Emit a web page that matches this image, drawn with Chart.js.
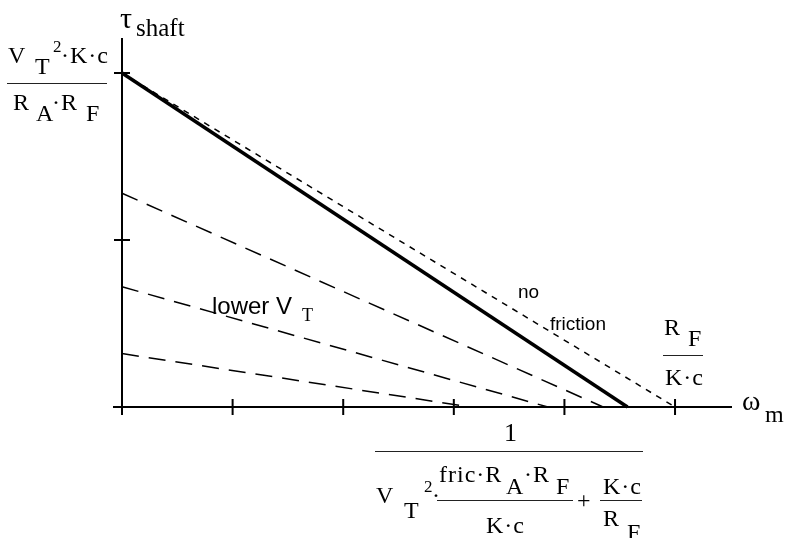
<!DOCTYPE html>
<html lang="en">
<head>
    <meta charset="UTF-8">
    <title>Shaft torque vs speed</title>
    <script src="https://cdn.jsdelivr.net/npm/chart.js"></script>
    <style>
        body {
            margin: 0;
            background: #fff;
        }
        #wrap {
            position: relative;
            width: 786px;
            height: 538px;
            overflow: hidden;
        }
        canvas {
            position: absolute;
            left: 0;
            top: 0;
        }
        .lbl {
            position: absolute;
            white-space: pre;
            line-height: 1;
            color: #000;
        }
        .bar {
            position: absolute;
            height: 0;
            border-top: 1.3px solid #222;
        }
    </style>
</head>
<body>
<div id="wrap">
    <canvas id="chart" width="786" height="538"></canvas>
</div>

<script>
    // axis ticks (speed and torque in tick units)
    const xTicks = [0, 1, 2, 3, 4, 5];
    const yTicks = [0, 1, 2];

    // torque-speed lines: [speed, torque] end points
    const noFriction = [[0, 2], [5, 0]];
    const withFriction = [[0, 2], [4.57, 0]];
    const lowerVt1 = [[0, 1.28], [4.35, 0]];
    const lowerVt2 = [[0, 0.72], [3.85, 0]];
    const lowerVt3 = [[0, 0.32], [3.15, 0]];

    const pts = arr => arr.map(p => ({ x: p[0], y: p[1] }));

    // axes crossing at the origin, with cross-shaped tick marks
    const crossAxes = {
        id: "crossAxes",
        beforeDatasetsDraw(chart) {
            const { ctx, scales: { x, y } } = chart;
            const x0 = x.getPixelForValue(0);
            const y0 = y.getPixelForValue(0);
            const t = 8;
            ctx.save();
            ctx.strokeStyle = "#000";
            ctx.lineWidth = 2;
            ctx.beginPath();
            ctx.moveTo(x.left, y0);
            ctx.lineTo(x.right, y0);
            ctx.moveTo(x0, y.top);
            ctx.lineTo(x0, y.bottom);
            xTicks.forEach(v => {
                const px = x.getPixelForValue(v);
                ctx.moveTo(px, y0 - t);
                ctx.lineTo(px, y0 + t);
            });
            yTicks.forEach(v => {
                const py = y.getPixelForValue(v);
                ctx.moveTo(x0 - t, py);
                ctx.lineTo(x0 + t, py);
            });
            ctx.stroke();
            ctx.restore();
        }
    };

    const dashed = data => ({
        data: pts(data),
        borderColor: "#000",
        borderWidth: 1.5,
        borderDash: [17, 10]
    });

    new Chart(document.getElementById("chart"), {
        type: "scatter",
        data: {
            datasets: [
                { data: pts(noFriction), borderColor: "#000", borderWidth: 1.5, borderDash: [6, 6] },
                { data: pts(withFriction), borderColor: "#000", borderWidth: 3.5 },
                dashed(lowerVt1),
                dashed(lowerVt2),
                dashed(lowerVt3)
            ]
        },
        options: {
            responsive: false,
            animation: false,
            showLine: true,
            layout: { padding: { left: 113, right: 54, top: 38, bottom: 123 } },
            elements: { point: { radius: 0 }, line: { tension: 0 } },
            scales: {
                x: { type: "linear", min: -0.0814, max: 5.515, display: false },
                y: { type: "linear", min: -0.048, max: 2.21, display: false }
            },
            plugins: { legend: { display: false }, tooltip: { enabled: false } }
        },
        plugins: [crossAxes]
    });

    // math labels, placed by baseline
    const wrap = document.getElementById("wrap");
    const SERIF = "'Liberation Serif', 'Times New Roman', serif";
    const SANS = "'Liberation Sans', Arial, sans-serif";

    function lbl(text, x, base, size, family, extra) {
        const d = document.createElement("div");
        d.className = "lbl";
        d.textContent = text;
        d.style.left = x + "px";
        d.style.top = (base - 0.84 * size) + "px";
        d.style.fontSize = size + "px";
        d.style.fontFamily = family || SERIF;
        if (extra) Object.assign(d.style, extra);
        wrap.appendChild(d);
    }

    function bar(x1, x2, y) {
        const d = document.createElement("div");
        d.className = "bar";
        d.style.left = x1 + "px";
        d.style.width = (x2 - x1) + "px";
        d.style.top = y + "px";
        wrap.appendChild(d);
    }

    const S = 24;
    const dotSp = { letterSpacing: "1px" };

    // y axis title
    lbl("τ", 120, 28, 30);
    lbl("shaft", 136, 36, 25);

    // stall torque
    lbl("V", 8, 63, S);
    lbl("T", 35, 74, S);
    lbl("2", 53, 52, 17);
    lbl("·K·c", 61, 63, S, SERIF, dotSp);
    bar(7, 107, 83);
    lbl("R", 13, 110, S);
    lbl("A", 36, 121, S);
    lbl("·R", 52, 110, S, SERIF, dotSp);
    lbl("F", 86, 121, S);

    // no-load speed without friction
    lbl("R", 664, 335, S);
    lbl("F", 688, 346, S);
    bar(663, 703, 355);
    lbl("K·c", 665, 385, S, SERIF, dotSp);

    // x axis title
    lbl("ω", 742, 411, 28);
    lbl("m", 765, 422, S);

    // annotations
    lbl("no", 518, 298, 19, SANS);
    lbl("friction", 550, 330, 19, SANS);
    lbl("lower V", 212, 314, 24, SANS);
    lbl("T", 302, 321, 18);

    // no-load speed with friction
    lbl("1", 504, 442, 26);
    bar(375, 643, 451);
    lbl("V", 376, 503, S);
    lbl("T", 404, 518, S);
    lbl("2", 424, 492, 17);
    lbl("·", 432, 503, S);
    lbl("fric·R", 439, 482, S, SERIF, dotSp);
    lbl("A", 506, 494, S);
    lbl("·R", 524, 482, S, SERIF, dotSp);
    lbl("F", 556, 494, S);
    bar(437, 573, 500);
    lbl("K·c", 486, 533, S, SERIF, dotSp);
    lbl("+", 577, 508, S);
    lbl("K·c", 603, 494, S, SERIF, dotSp);
    bar(600, 642, 500);
    lbl("R", 603, 526, S);
    lbl("F", 627, 540, S);
</script>
</body>
</html>
